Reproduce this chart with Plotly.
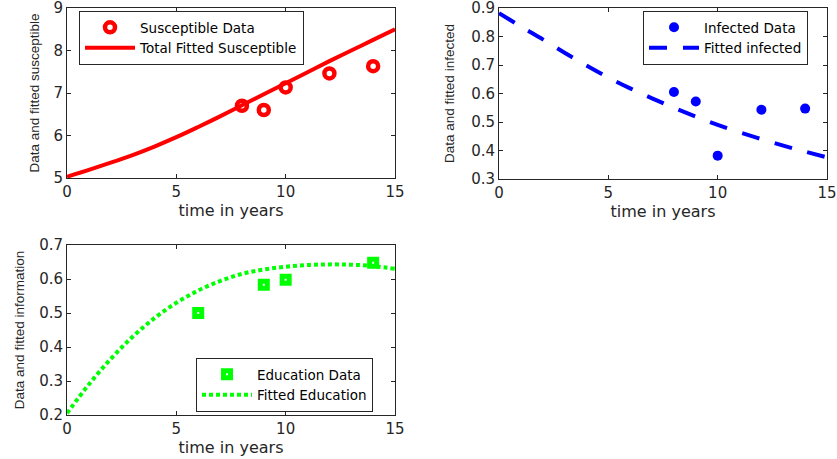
import plotly.graph_objects as go

# ---- data ----
t_fit = [0, 1, 2, 3, 4, 5, 6, 7, 8, 9, 10, 11, 12, 13, 14, 15]

t_sus = [8, 9, 10, 12, 14]
sus_data = [6.70, 6.60, 7.13, 7.46, 7.63]
sus_fit = [5.03, 5.19, 5.36, 5.54, 5.74, 5.96, 6.20, 6.45, 6.71, 6.97, 7.23, 7.49, 7.75, 8.00, 8.25, 8.50]

t_inf = [8, 9, 10, 12, 14]
inf_data = [0.605, 0.572, 0.382, 0.543, 0.547]
inf_fit = [0.882, 0.835, 0.790, 0.743, 0.698, 0.656, 0.618, 0.583, 0.550, 0.519, 0.490, 0.464, 0.440, 0.417, 0.396, 0.376]

t_edu = [6, 9, 10, 14]
edu_data = [0.500, 0.583, 0.598, 0.648]
edu_fit = [0.205, 0.290, 0.365, 0.430, 0.485, 0.530, 0.566, 0.594, 0.615, 0.628, 0.636, 0.641, 0.643, 0.642, 0.638, 0.630]

x_title = "time in years"
y_titles = ["Data and fitted susceptible", "Data and fitted infected", "Data and fitted information"]

RED = "#FF0000"
BLUE = "#0000FF"
GREEN = "#00FF00"
FONT = "DejaVu Sans, Liberation Sans, Arial, sans-serif"
YFONT = "Liberation Sans, Arial, Helvetica, sans-serif"
AX = "#262626"

W, H = 837, 459

def px_dom(a, b):
    return [a / W, b / W]

def py_dom(top, bottom):
    return [1 - bottom / H, 1 - top / H]

fig = go.Figure()

# Susceptible
fig.add_trace(go.Scatter(x=t_sus, y=sus_data, mode="markers", name="Susceptible Data",
                         marker=dict(symbol="circle-open", size=10, color=RED, line=dict(width=4.5, color=RED)),
                         xaxis="x", yaxis="y", legend="legend"))
fig.add_trace(go.Scatter(x=t_fit, y=sus_fit, mode="lines", name="Total Fitted Susceptible",
                         line=dict(color=RED, width=4, shape="spline"),
                         xaxis="x", yaxis="y", legend="legend"))
# Infected
fig.add_trace(go.Scatter(x=t_inf, y=inf_data, mode="markers", name="Infected Data",
                         marker=dict(symbol="circle", size=10, color=BLUE),
                         xaxis="x2", yaxis="y2", legend="legend2"))
fig.add_trace(go.Scatter(x=t_fit, y=inf_fit, mode="lines", name="Fitted infected",
                         line=dict(color=BLUE, width=4, dash="18px,16px", shape="spline"),
                         xaxis="x2", yaxis="y2", legend="legend2"))
# Education
fig.add_trace(go.Scatter(x=t_edu, y=edu_data, mode="markers", name="Education Data",
                         marker=dict(symbol="square-open", size=7, color=GREEN, line=dict(width=5, color=GREEN)),
                         xaxis="x3", yaxis="y3", legend="legend3"))
fig.add_trace(go.Scatter(x=t_fit, y=edu_fit, mode="lines", name="Fitted Education",
                         line=dict(color=GREEN, width=4, dash="4px,3px", shape="spline"),
                         xaxis="x3", yaxis="y3", legend="legend3"))

def xax(dom, anchor):
    return dict(domain=dom, anchor=anchor, range=[0, 15], tickvals=[0, 5, 10, 15],
                showline=True, linecolor=AX, linewidth=1, mirror="ticks",
                ticks="inside", ticklen=4, tickcolor=AX, showgrid=False, zeroline=False,
                tickfont=dict(family=FONT, size=15, color=AX), ticklabeloverflow="allow",
                title=dict(text=x_title, font=dict(family=FONT, size=16, color=AX), standoff=0),
                automargin=False)

def yax(dom, anchor, rng, dtick, title, standoff):
    return dict(domain=dom, anchor=anchor, range=rng, dtick=dtick,
                showline=True, linecolor=AX, linewidth=1, mirror="ticks",
                ticks="inside", ticklen=4, tickcolor=AX, showgrid=False, zeroline=False,
                tickfont=dict(family=FONT, size=15, color=AX), ticklabeloverflow="allow",
                title=dict(text=title, font=dict(family=YFONT, size=13.5, color=AX), standoff=standoff),
                automargin=False)

def leg(x0, y0, yanchor="top"):
    return dict(x=x0 / W, y=1 - y0 / H, xanchor="left", yanchor=yanchor,
                bgcolor="white", bordercolor=AX, borderwidth=1,
                font=dict(family=FONT, size=13.5, color="black"),
                itemwidth=50, tracegroupgap=0)

fig.update_layout(
    width=W, height=H,
    margin=dict(l=0, r=0, t=0, b=0),
    paper_bgcolor="white", plot_bgcolor="white",
    showlegend=True,
    xaxis=xax(px_dom(67, 395), "y"),
    yaxis=yax(py_dom(8, 178), "x", [5, 9], 1, y_titles[0], 10),
    xaxis2=xax(px_dom(499, 827), "y2"),
    yaxis2=yax(py_dom(8, 179), "x2", [0.3, 0.9], 0.1, y_titles[1], 13),
    xaxis3=xax(px_dom(67, 395), "y3"),
    yaxis3=yax(py_dom(245, 415), "x3", [0.2, 0.7], 0.1, y_titles[2], 11),
    legend=leg(79, 11),
    legend2=leg(643, 11),
    legend3=leg(196, 412, yanchor="bottom"),
)

fig.write_html("out.html", config={"displayModeBar": False},
               post_script="document.body.style.margin='0px';document.body.style.overflow='hidden';")
